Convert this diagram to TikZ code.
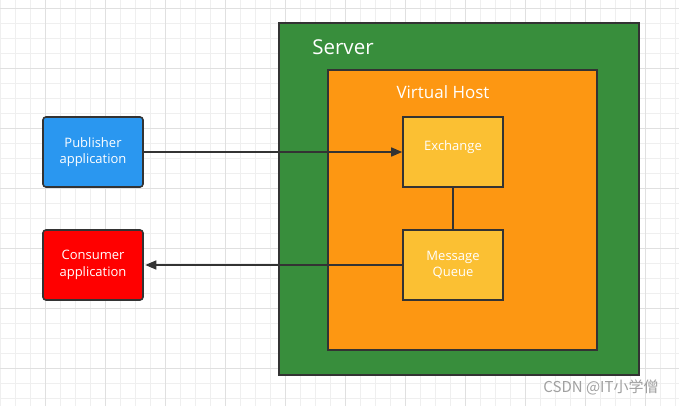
\documentclass[tikz,border=0pt]{standalone}
\usepackage{fontspec}
\setmainfont{Open Sans}
\newfontfamily\cjkfont{Noto Sans CJK SC}
\usetikzlibrary{arrows.meta}
\definecolor{gridminor}{HTML}{EFEFEF}
\definecolor{gridmajor}{HTML}{E0E0E0}
\definecolor{edgecol}{HTML}{333333}
\definecolor{pubblue}{HTML}{2A97F0}
\definecolor{conred}{HTML}{FF0000}
\definecolor{servgreen}{HTML}{388E3C}
\definecolor{vhorange}{HTML}{FD9712}
\definecolor{qyellow}{HTML}{FBC033}
\definecolor{wmgray}{HTML}{A0A0A0}
\tikzset{
  minorline/.style={draw=gridminor, line width=0.9pt},
  majorline/.style={draw=gridmajor, line width=0.9pt},
  appbox/.style={draw=edgecol, line width=1.6pt, rounded corners=3pt, minimum width=100pt, minimum height=70pt, inner sep=0pt, text=white, align=center, font=\fontsize{13}{16.5}\selectfont},
  qbox/.style={draw=edgecol, line width=1.6pt, fill=qyellow, minimum width=100pt, minimum height=70pt, inner sep=0pt, text=white, align=center, font=\fontsize{13}{16.5}\selectfont},
  lbl/.style={inner sep=0pt, text=white, align=center, font=\fontsize{13}{16.5}\selectfont},
  container/.style={draw=edgecol, line width=1.6pt, inner sep=0pt},
  conn/.style={draw=edgecol, line width=1.6pt},
  tip/.style={-{Triangle[length=11pt,width=9pt]}}
}
\begin{document}
\begin{tikzpicture}[x=1pt,y=-1pt]
\useasboundingbox (0,0) rectangle (679,406);
\fill[white] (0,0) rectangle (679,406);
% grid
\foreach \x in {0,15,...,675} \draw[minorline] (\x,0) -- (\x,406);
\foreach \y in {-7,8,...,406} \draw[minorline] (0,\y) -- (679,\y);
\foreach \x in {45,105,...,675} \draw[majorline] (\x,0) -- (\x,406);
\foreach \y in {8,68,...,406} \draw[majorline] (0,\y) -- (679,\y);
% containers
\node[container, fill=servgreen, minimum width=360pt, minimum height=352pt] (server) at (459,199) {};
\node[container, fill=vhorange, minimum width=269pt, minimum height=280pt] (vhost) at (462.5,210) {};
\node[text=white, inner sep=0pt, font=\fontsize{20.5}{24}\selectfont] (servertxt) at (343,47) {Server};
\node[text=white, inner sep=0pt, font=\fontsize{17}{20}\selectfont] (vhosttxt) at (443,92) {Virtual Host};
% boxes
\node[appbox, fill=pubblue] (pub) at (93,152) {Publisher\\application};
\node[appbox, fill=conred] (con) at (93,265) {Consumer\\application};
\node[qbox] (ex) at (453,152) {};
\node[lbl] (exlbl) at ([yshift=5pt]ex.center) {Exchange};
\node[qbox] (mq) at (453,265) {Message\\Queue};
% connectors
\draw[conn, tip] (pub.east) -- (ex.west);
\draw[conn, tip, shorten >=1.5pt] (mq.west) -- (con.east);
\draw[conn] (ex.south) -- (mq.north);
% watermark
\node[text=wmgray, inner sep=0pt, font=\cjkfont\fontsize{15}{18}\selectfont] (wm) at (601,387) {CSDN @IT小学僧};
\end{tikzpicture}
\end{document}
